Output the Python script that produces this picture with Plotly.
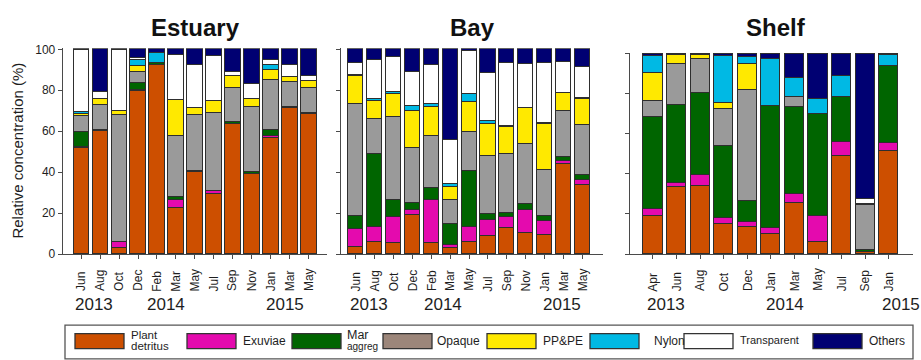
import plotly.graph_objects as go

W, H = 921, 360
FONT = "Liberation Sans, Arial, sans-serif"

# ---------------------------------------------------------------- data
categories = ["Plant detritus", "Exuviae", "Mar aggreg", "Opaque",
              "PP&PE", "Nylon", "Transparent", "Others"]

estuary_months = ["Jun", "Aug", "Oct", "Dec", "Feb", "Mar", "May",
                  "Jul", "Sep", "Nov", "Jan", "Mar", "May"]
estuary_plant = [51.5, 59.8, 2.8, 79.3, 92.2, 22.2, 40.1, 29.1, 63.5, 39.0, 56.5, 71.0, 68.2]
estuary_exuviae = [0.5, 0.8, 3.0, 0.5, 0, 3.8, 0, 1.3, 0, 0, 0.9, 0, 0]
estuary_mar_aggreg = [7.3, 0, 0, 3.4, 1.2, 1.5, 0.5, 0, 0.7, 0.7, 3.0, 0.5, 0.5]
estuary_opaque = [7.8, 12.0, 61.8, 5.8, 0, 29.8, 27.0, 38.3, 16.7, 32.1, 24.7, 12.4, 12.5]
estuary_pppe = [1.0, 3.1, 1.9, 2.7, 0, 17.7, 3.4, 5.8, 5.8, 3.6, 4.7, 2.5, 3.2]
estuary_nylon = [1.0, 0, 0, 2.8, 4.6, 0, 0, 0, 0, 0, 2.2, 0, 0]
estuary_transparent = [30.4, 3.2, 30.0, 1.0, 0, 22.3, 21.2, 21.9, 2.3, 7.7, 2.8, 5.8, 2.3]
estuary_others = [0.5, 21.1, 0.5, 4.5, 2.0, 2.7, 7.8, 3.6, 11.0, 16.9, 5.2, 7.8, 13.3]
estuary_years = ["2013", "2014", "2015"]

bay_months = ["Jun", "Aug", "Oct", "Dec", "Feb", "Mar", "May",
              "Jul", "Sep", "Nov", "Jan", "Mar", "May"]
bay_plant = [3.3, 5.8, 5.3, 18.9, 5.3, 2.7, 5.8, 8.5, 12.4, 10.0, 8.9, 44.0, 33.5]
bay_exuviae = [8.7, 7.3, 12.5, 2.5, 20.7, 1.5, 7.3, 8.1, 5.4, 11.3, 6.9, 1.5, 2.3]
bay_mar_aggreg = [6.2, 35.6, 8.2, 3.2, 5.9, 10.2, 27.4, 2.8, 1.9, 2.8, 2.5, 1.8, 2.7]
bay_opaque = [54.7, 16.9, 40.7, 26.9, 25.8, 11.7, 18.8, 28.5, 29.1, 29.3, 22.5, 22.5, 24.3]
bay_pppe = [13.8, 8.9, 11.4, 18.3, 13.8, 6.3, 14.6, 15.6, 12.9, 17.6, 22.4, 8.7, 12.6]
bay_nylon = [0.8, 0.9, 1.1, 2.4, 1.4, 1.5, 4.2, 1.3, 0.9, 0, 0.8, 0, 0.6]
bay_transparent = [5.5, 19.4, 16.9, 16.5, 19.3, 21.8, 21.1, 23.5, 30.8, 21.6, 29.0, 15.2, 15.4]
bay_others = [7.0, 5.2, 3.9, 11.3, 7.8, 44.3, 0.8, 11.7, 6.6, 7.4, 7.0, 6.3, 8.6]
bay_years = ["2013", "2014", "2015"]

shelf_months = ["Apr", "Jun", "Aug", "Oct", "Dec", "Jan", "Mar", "May", "Jul", "Sep", "Jan"]
shelf_plant = [19.2, 33.5, 34.4, 15.2, 13.6, 10.4, 25.5, 6.2, 49.2, 1.1, 51.6]
shelf_exuviae = [3.5, 2.1, 5.2, 3.2, 2.7, 2.7, 4.9, 13.0, 6.7, 0, 4.0]
shelf_mar_aggreg = [45.7, 39.2, 40.8, 35.9, 10.4, 61.2, 43.1, 50.8, 22.5, 1.3, 38.4]
shelf_opaque = [8.0, 20.4, 17.3, 18.4, 55.3, 0, 5.3, 0, 0, 22.4, 0]
shelf_pppe = [14.0, 4.1, 2.0, 2.9, 13.2, 0, 0, 0, 0, 0.6, 0]
shelf_nylon = [8.5, 0, 0, 23.6, 3.2, 23.0, 9.3, 7.5, 10.8, 0, 5.7]
shelf_transparent = [0, 0, 0, 0, 0, 0, 0, 0, 0, 2.1, 0]
shelf_others = [1.1, 0.7, 0.3, 0.8, 1.6, 2.7, 11.9, 22.5, 10.8, 72.5, 0.3]
shelf_years = ["2013", "2014", "2015"]

yticks = [0, 20, 40, 60, 80, 100]

# ---------------------------------------------------------------- styles
bar_colors = ["#CD4F00", "#E40AAE", "#006500", "#9A9A9A",
              "#FFE900", "#00B9E4", "#FFFFFF", "#000072"]
swatch_colors = ["#CD4F00", "#E40AAE", "#006500", "#9C867A",
                 "#FFE900", "#00B9E4", "#FFFFFF", "#000072"]
EDGE = "#2E2E2E"
AXIS = "#4A4A4A"
TXT = "#1E1E1E"


def px_x(p):
    return p / W


def px_y(p):
    return 1 - p / H


panels = [
    dict(name="Estuary", suffix="", months=estuary_months, years=estuary_years,
         series=[estuary_plant, estuary_exuviae, estuary_mar_aggreg, estuary_opaque,
                 estuary_pppe, estuary_nylon, estuary_transparent, estuary_others],
         xpx=(62.7, 326.7), xrange=(-0.98, 12.97), ytop=43.9, ymax=100.5,
         width=0.83, year_at=(0.65, 4.5, 10.75), title_x=195, ylabels=True),
    dict(name="Bay", suffix="2", months=bay_months, years=bay_years,
         series=[bay_plant, bay_exuviae, bay_mar_aggreg, bay_opaque,
                 bay_pppe, bay_nylon, bay_transparent, bay_others],
         xpx=(341, 603), xrange=(-0.78, 13.09), ytop=43.9, ymax=100.5,
         width=0.8, year_at=(0.7, 4.6, 10.9), title_x=472, ylabels=False),
    dict(name="Shelf", suffix="3", months=shelf_months, years=shelf_years,
         series=[shelf_plant, shelf_exuviae, shelf_mar_aggreg, shelf_opaque,
                 shelf_pppe, shelf_nylon, shelf_transparent, shelf_others],
         xpx=(630, 913), xrange=(-0.975, 11.03), ytop=48.3, ymax=100.5,
         width=0.81, year_at=(0.55, 5.6, 10.5), title_x=776, ylabels=False),
]

Y_BOTTOM = 257.3

fig = go.Figure()
annotations = []
shapes = []
layout = {}

for p in panels:
    xa, ya = "x" + p["suffix"], "y" + p["suffix"]
    idx = list(range(len(p["months"])))
    for name, vals, col in zip(categories, p["series"], bar_colors):
        fig.add_trace(go.Bar(
            x=idx, y=[v if v else None for v in vals], name=name,
            xaxis=xa, yaxis=ya, width=p["width"], showlegend=False,
            marker=dict(color=col, line=dict(color=EDGE, width=1)),
        ))

    layout["xaxis" + p["suffix"]] = dict(
        domain=[px_x(p["xpx"][0]), px_x(p["xpx"][1])], range=list(p["xrange"]),
        anchor=ya, tickvals=idx, showticklabels=False, ticks="outside",
        ticklen=4, tickcolor=AXIS, tickwidth=1, showline=True, linecolor=AXIS,
        linewidth=1, showgrid=False, zeroline=False, fixedrange=True,
    )
    layout["yaxis" + p["suffix"]] = dict(
        domain=[px_y(Y_BOTTOM), px_y(p["ytop"])], range=[0, p["ymax"]],
        anchor=xa, tickvals=yticks, showticklabels=p["ylabels"],
        tickfont=dict(family=FONT, size=12, color=TXT), ticks="outside",
        ticklen=4, tickcolor=AXIS, tickwidth=1, showline=True, linecolor=AXIS,
        linewidth=1, showgrid=False, zeroline=False, fixedrange=True,
    )

    # rotated month labels, bottom-aligned
    for i, m in zip(idx, p["months"]):
        annotations.append(dict(
            x=i, y=px_y(297), xref=xa, yref="paper", text=m, textangle=-90,
            showarrow=False, xanchor="center", yanchor="bottom",
            font=dict(family=FONT, size=12, color=TXT), borderpad=0,
        ))
    for yr, xpos in zip(p["years"], p["year_at"]):
        annotations.append(dict(
            x=xpos, y=px_y(309.5), xref=xa, yref="paper", text=yr,
            showarrow=False, xanchor="center", yanchor="middle",
            font=dict(family=FONT, size=17, color=TXT),
        ))
    annotations.append(dict(
        x=px_x(p["title_x"]), y=px_y(22), xref="paper", yref="paper",
        text="<b>%s</b>" % p["name"], showarrow=False, xanchor="center",
        yanchor="middle", font=dict(family=FONT, size=24, color="#111111"),
    ))

# y-axis title
annotations.append(dict(
    x=px_x(18), y=px_y(150), xref="paper", yref="paper",
    text="Relative concentration (%)", textangle=-90, showarrow=False,
    xanchor="center", yanchor="middle", font=dict(family=FONT, size=15, color=TXT),
))

# ---------------------------------------------------------------- legend box
shapes.append(dict(type="rect", xref="paper", yref="paper",
                   x0=px_x(65), x1=px_x(913), y0=px_y(366), y1=px_y(331),
                   line=dict(color="#555555", width=1.3), fillcolor="rgba(0,0,0,0)"))

swatch_x = [75, 187, 292, 383, 487, 590, 684, 813]
text_x = [129, 241, 345, 435, 541, 652, 738, 867]
for k, (cat, col) in enumerate(zip(categories, swatch_colors)):
    shapes.append(dict(type="rect", xref="paper", yref="paper",
                       x0=px_x(swatch_x[k]), x1=px_x(swatch_x[k] + 49),
                       y0=px_y(355.5), y1=px_y(340),
                       line=dict(color="#333333", width=1.3), fillcolor=col))
    base = dict(xref="paper", yref="paper", showarrow=False, xanchor="left",
                yanchor="middle", x=px_x(text_x[k]))
    if cat == "Plant detritus":
        annotations.append(dict(base, y=px_y(341.5), text="Plant",
                                font=dict(family=FONT, size=11.5, color=TXT)))
        annotations.append(dict(base, y=px_y(352.8), text="detritus",
                                font=dict(family=FONT, size=11.5, color=TXT)))
    elif cat == "Mar aggreg":
        annotations.append(dict(base, y=px_y(341.5), text="Mar",
                                font=dict(family=FONT, size=12.5, color=TXT)))
        annotations.append(dict(base, y=px_y(353.5), text="aggreg",
                                font=dict(family=FONT, size=10, color=TXT)))
    elif cat == "Transparent":
        annotations.append(dict(base, y=px_y(346.5), text=cat,
                                font=dict(family=FONT, size=11, color=TXT)))
    else:
        annotations.append(dict(base, y=px_y(348), text=cat,
                                font=dict(family=FONT, size=12, color=TXT)))

fig.update_layout(
    width=W, height=H, margin=dict(l=0, r=0, t=0, b=0),
    paper_bgcolor="white", plot_bgcolor="white", barmode="stack",
    bargap=0, annotations=annotations, shapes=shapes,
    font=dict(family=FONT, color=TXT), **layout,
)

fig.write_html("out.html")
